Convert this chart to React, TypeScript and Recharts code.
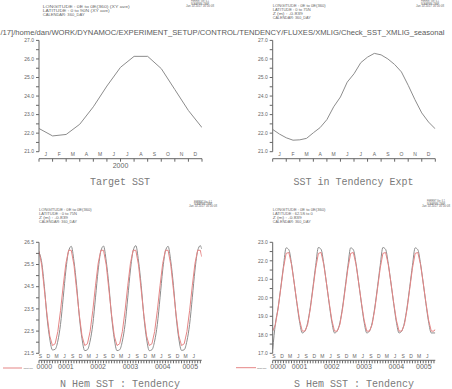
import React from "react";
import { LineChart, Line, XAxis, YAxis } from "recharts";

// ---------- data ----------
const MONTH_LETTERS = ["J", "F", "M", "A", "M", "J", "J", "A", "S", "O", "N", "D"];
const MONTH_EDGES = [0, 1, 2, 3, 4, 5, 6, 7, 8, 9, 10, 11, 12];
// Target SST, year 2000, value at each month boundary (Jan 1 .. next Jan 1)
const TARGET_SST = [22.25, 21.85, 21.93, 22.48, 23.42, 24.54, 25.55, 26.14, 26.14, 25.48, 24.35, 23.22, 22.3];
// SST in Tendency Expt, every half month
const TEND_TIME = [0, 0.5, 1, 1.5, 2, 2.5, 3, 3.5, 4, 4.5, 5, 5.5, 6, 6.5, 7, 7.5, 8, 8.5, 9, 9.5, 10, 10.5, 11, 11.5, 12];
const TEND_SST = [22.2, 21.95, 21.75, 21.62, 21.64, 21.72, 22.02, 22.3, 22.73, 23.42, 23.95, 24.75, 25.2, 25.8, 26.1, 26.3, 26.22, 26.0, 25.7, 25.3, 24.58, 23.8, 23.09, 22.6, 22.23];

// Bottom panels: months since 1 Sep 0000
const QUARTER_LABELS = ["S", "D", "M", "J", "S", "D", "M", "J", "S", "D", "M", "J", "S", "D", "M", "J", "S", "D", "M", "J"];
const YEAR_LABELS = ["0000", "0001", "0002", "0003", "0004", "0005"];
const YEAR_CENTERS = [2, 10, 22, 34, 46, 56.25];
const NH_MODEL = [
  26.05, 25.6, 24.5, 23.1, 22.15, 21.65, 21.68, 22.05, 22.8, 24.0, 25.25, 26.1,
  26.32, 25.65, 24.55, 23.15, 22.15, 21.62, 21.66, 22.05, 22.8, 24.0, 25.25, 26.1,
  26.33, 25.65, 24.55, 23.15, 22.15, 21.62, 21.66, 22.05, 22.8, 24.0, 25.25, 26.12,
  26.35, 25.66, 24.55, 23.15, 22.15, 21.62, 21.66, 22.05, 22.8, 24.0, 25.25, 26.1,
  26.32, 25.65, 24.55, 23.15, 22.15, 21.63, 21.66, 22.05, 22.8, 24.0, 25.25, 26.12,
  26.35, 26.2,
];
const NH_TARGET = [
  26.1, 25.48, 24.35, 23.22, 22.28, 21.85, 21.93, 22.48, 23.42, 24.54, 25.55, 26.14,
  26.14, 25.48, 24.35, 23.22, 22.28, 21.85, 21.93, 22.48, 23.42, 24.54, 25.55, 26.14,
  26.14, 25.48, 24.35, 23.22, 22.28, 21.85, 21.93, 22.48, 23.42, 24.54, 25.55, 26.14,
  26.14, 25.48, 24.35, 23.22, 22.28, 21.85, 21.93, 22.48, 23.42, 24.54, 25.55, 26.14,
  26.14, 25.48, 24.35, 23.22, 22.28, 21.85, 21.93, 22.48, 23.42, 24.54, 25.55, 26.14,
  26.14, 25.85,
];
const SH_MODEL = [
  17.2, 18.6, 19.45, 20.55, 21.7, 22.7, 22.6, 21.85, 20.8, 19.7, 18.7, 18.1,
  18.2, 18.65, 19.5, 20.6, 21.75, 22.72, 22.62, 21.85, 20.8, 19.7, 18.7, 18.1,
  18.2, 18.65, 19.5, 20.6, 21.75, 22.7, 22.6, 21.85, 20.8, 19.7, 18.7, 18.1,
  18.2, 18.65, 19.5, 20.6, 21.75, 22.72, 22.62, 21.85, 20.8, 19.7, 18.7, 18.1,
  18.2, 18.65, 19.5, 20.6, 21.75, 22.7, 22.6, 21.85, 20.8, 19.7, 18.7, 18.1,
  18.1, 18.1,
];
const SH_TARGET = [
  18.2, 18.55, 19.4, 20.5, 21.6, 22.4, 22.45, 21.8, 20.8, 19.75, 18.8, 18.2,
  18.2, 18.55, 19.4, 20.5, 21.6, 22.4, 22.45, 21.8, 20.8, 19.75, 18.8, 18.2,
  18.2, 18.55, 19.4, 20.5, 21.6, 22.4, 22.45, 21.8, 20.8, 19.75, 18.8, 18.2,
  18.2, 18.55, 19.4, 20.5, 21.6, 22.4, 22.45, 21.8, 20.8, 19.75, 18.8, 18.2,
  18.2, 18.55, 19.4, 20.5, 21.6, 22.4, 22.45, 21.8, 20.8, 19.75, 18.8, 18.2,
  18.2, 18.3,
];
const LONG_TIME = NH_MODEL.map((_, i) => (i <= 60 ? i : 60.5));

const TOP_Y_TICKS = [21, 21.5, 22, 22.5, 23, 23.5, 24, 24.5, 25, 25.5, 26, 26.5, 27];
const NH_Y_TICKS = [21.5, 22, 22.5, 23, 23.5, 24, 24.5, 25, 25.5, 26, 26.5];
const SH_Y_TICKS = [17, 17.5, 18, 18.5, 19, 19.5, 20, 20.5, 21, 21.5, 22, 22.5, 23];

// ---------- tables for the library ----------
const targetData = MONTH_EDGES.map((t, i) => ({ t, v: TARGET_SST[i] }));
const tendData = TEND_TIME.map((t, i) => ({ t, v: TEND_SST[i] }));
const nhData = LONG_TIME.map((t, i) => ({ t, model: NH_MODEL[i], target: NH_TARGET[i] }));
const shData = LONG_TIME.map((t, i) => ({ t, model: SH_MODEL[i], target: SH_TARGET[i] }));

const monthLabelTicks = MONTH_LETTERS.map((_, i) => i + 0.5);
const quarterTicks = QUARTER_LABELS.map((_, i) => 0.5 + 3 * i);
const longEdges = Array.from({ length: 61 }, (_, i) => i);

const AXIS = "#666";
const TXT = "#666";
const BLACK = "#8c8c8c";
const RED = "#e58585";
const SANS = "'Liberation Sans', Arial, sans-serif";

type LineSpec = { key: string; color: string; type: "linear" | "monotone" };

function Panel(p: {
  x: number; y: number; w: number; h: number;
  margin: { top: number; right: number; bottom: number; left: number };
  yW: number; data: any[]; lines: LineSpec[];
  yDomain: [number, number]; yTicks: number[]; yFmt: (v: number) => string;
  xDomain: [number, number]; xTicks: number[];
  lblTicks: number[]; lblFmt: (v: number) => string;
  yrTicks?: number[]; yrFmt?: (v: number) => string;
  thickRight?: boolean;
}) {
  const blank = () => "";
  return (
    <div style={{ position: "absolute", left: p.x, top: p.y }}>
      <LineChart width={p.w} height={p.h} data={p.data} margin={p.margin}>
        <XAxis xAxisId="tk" dataKey="t" type="number" domain={p.xDomain} allowDataOverflow
          ticks={p.xTicks} interval={0} tickSize={3} tickFormatter={blank} height={4}
          stroke={AXIS} tick={{ fontSize: 1 }} />
        <XAxis xAxisId="lb" dataKey="t" type="number" domain={p.xDomain} allowDataOverflow
          ticks={p.lblTicks} interval={0} tickFormatter={p.lblFmt} axisLine={false} tickLine={false}
          tickSize={0} tickMargin={1} height={7}
          tick={{ fontSize: 5, fill: TXT, fontFamily: SANS }} />
        {p.yrTicks ? (
          <XAxis xAxisId="yr" dataKey="t" type="number" domain={p.xDomain} allowDataOverflow
            ticks={p.yrTicks} interval={0} tickFormatter={p.yrFmt} axisLine={false} tickLine={false}
            tickSize={0} tickMargin={0} height={12}
            tick={{ fontSize: 7, fill: TXT, fontFamily: SANS }} />
        ) : null}
        <XAxis xAxisId="top" orientation="top" mirror dataKey="t" type="number" domain={p.xDomain}
          allowDataOverflow ticks={p.xTicks} interval={0} tickSize={3} tickFormatter={blank} height={0}
          stroke={AXIS} tick={{ fontSize: 1 }} />
        <YAxis yAxisId="y" type="number" domain={p.yDomain} allowDataOverflow ticks={p.yTicks}
          interval={0} tickFormatter={p.yFmt} width={p.yW} tickSize={3} tickMargin={2} stroke={AXIS}
          tick={{ fontSize: 5, fill: TXT, fontFamily: SANS }} />
        <YAxis yAxisId="r" orientation="right" type="number" domain={p.yDomain} allowDataOverflow
          ticks={p.yTicks} interval={0} tickFormatter={blank} width={0} tickSize={3} stroke={AXIS}
          axisLine={p.thickRight ? { stroke: "#a0a0a0", strokeWidth: 2.5 } : true}
          tick={{ fontSize: 1 }} />
        {p.lines.map((l) => (
          <Line key={l.key} xAxisId="tk" yAxisId="y" dataKey={l.key} type={l.type} stroke={l.color}
            strokeWidth={1} dot={false} activeDot={false} isAnimationActive={false} />
        ))}
      </LineChart>
    </div>
  );
}

const fmtInt = (v: number) => (Math.abs(v - Math.round(v)) < 1e-6 ? v.toFixed(1) : "");
const fmtHalf = (v: number) => (Math.abs(v - Math.round(v)) > 1e-6 ? v.toFixed(1) : "");
const fmtMonth = (v: number) => MONTH_LETTERS[Math.floor(v)] ?? "";
const fmtQuarter = (v: number) => QUARTER_LABELS[Math.round((v - 0.5) / 3)] ?? "";
const fmtYear = (v: number) => YEAR_LABELS[YEAR_CENTERS.indexOf(v)] ?? "";
const fmt2000 = () => "2000";

function T(props: { x: number; y: number; s: string; size: number; w?: number; anchor?: string; family?: string; fill?: string }) {
  return (
    <text x={props.x} y={props.y} fontSize={props.size} fontFamily={props.family ?? SANS}
      fill={props.fill ?? TXT} textAnchor={props.anchor ?? "start"}
      {...(props.w ? { textLength: props.w, lengthAdjust: "spacingAndGlyphs" } : {})}>
      {props.s}
    </text>
  );
}

function Stamp({ cx, y }: { cx: number; y: number }) {
  return (
    <g>
      <T x={cx} y={y} s="FERRET Ver. 6.1" size={2.6} anchor="middle" w={18} />
      <T x={cx} y={y + 2.3} s="NOAA/PMEL TMAP" size={2.6} anchor="middle" w={18} />
      <T x={cx} y={y + 4.6} s="Jan 10 2017 16:16:08" size={2.6} anchor="middle" w={28} />
    </g>
  );
}

export default function App() {
  const MONO = "'Liberation Mono', 'DejaVu Sans Mono', monospace";
  return (
    <div style={{ position: "absolute", left: 0, top: 0, width: 452, height: 389, background: "#fff", overflow: "hidden" }}>
      <Panel x={0} y={0} w={226} h={200} margin={{ top: 40.4, right: 24, bottom: 25.3, left: 0 }} yW={39}
        data={targetData} lines={[{ key: "v", color: BLACK, type: "linear" }]}
        yDomain={[21, 27]} yTicks={TOP_Y_TICKS} yFmt={fmtInt}
        xDomain={[0, 12]} xTicks={MONTH_EDGES} lblTicks={monthLabelTicks} lblFmt={fmtMonth}
        yrTicks={[6]} yrFmt={fmt2000} />
      <Panel x={226} y={0} w={226} h={200} margin={{ top: 40.4, right: 16.7, bottom: 37.3, left: 0 }} yW={46.7}
        data={tendData} lines={[{ key: "v", color: BLACK, type: "linear" }]}
        yDomain={[21, 27]} yTicks={TOP_Y_TICKS} yFmt={fmtInt}
        xDomain={[0, 12]} xTicks={MONTH_EDGES} lblTicks={monthLabelTicks} lblFmt={fmtMonth}
        thickRight />
      <Panel x={0} y={200} w={226} h={189} margin={{ top: 42.3, right: 24.3, bottom: 12.7, left: 0 }} yW={39}
        data={nhData} lines={[{ key: "model", color: BLACK, type: "monotone" }, { key: "target", color: RED, type: "linear" }]}
        yDomain={[21.5, 26.5]} yTicks={NH_Y_TICKS} yFmt={fmtHalf}
        xDomain={[0, 60.5]} xTicks={longEdges} lblTicks={quarterTicks} lblFmt={fmtQuarter}
        yrTicks={YEAR_CENTERS} yrFmt={fmtYear} />
      <Panel x={226} y={200} w={226} h={189} margin={{ top: 42.3, right: 16.7, bottom: 12.7, left: 0 }} yW={46.7}
        data={shData} lines={[{ key: "model", color: BLACK, type: "monotone" }, { key: "target", color: RED, type: "linear" }]}
        yDomain={[17, 23]} yTicks={SH_Y_TICKS} yFmt={fmtInt}
        xDomain={[0, 60.5]} xTicks={longEdges} lblTicks={quarterTicks} lblFmt={fmtQuarter}
        yrTicks={YEAR_CENTERS} yrFmt={fmtYear} thickRight />

      <svg width={452} height={389} style={{ position: "absolute", left: 0, top: 0, pointerEvents: "none" }}>
        {/* panel 1 header */}
        <T x={42.7} y={8.4} s="LONGITUDE : 0E to 0E(360) (XY ave)" size={4} w={87} />
        <T x={42.7} y={12.4} s="LATITUDE : 0 to 90N (XY ave)" size={4} w={67} />
        <T x={42.7} y={16.4} s="CALENDAR: 360_DAY" size={4} w={42} />
        <Stamp cx={200} y={2.4} />
        {/* panel 2 header */}
        <T x={272.7} y={7.3} s="LONGITUDE : 0E to 0E(360)" size={3.6} w={53} />
        <T x={272.7} y={11.1} s="LATITUDE : 0 to 75N" size={3.6} w={38} />
        <T x={272.7} y={14.9} s="Z (m) : -0.839" size={3.6} w={30} />
        <T x={272.7} y={18.6} s="CALENDAR: 360_DAY" size={3.6} w={38} />
        <Stamp cx={430} y={2.4} />
        {/* path */}
        <T x={0.5} y={34.5} s="/17]/home/dan/WORK/DYNAMOC/EXPERIMENT_SETUP/CONTROL/TENDENCY/FLUXES/XMLIG/Check_SST_XMLIG_seasonal" size={7.5} w={444} fill="#5a5a5a" />
        {/* titles */}
        <T x={120} y={185} s="Target SST" size={10} anchor="middle" family={MONO} fill="#7a7a7a" />
        <T x={353.5} y={185} s="SST in Tendency Expt" size={10} anchor="middle" family={MONO} fill="#7a7a7a" />
        <T x={120} y={386.5} s="N Hem SST : Tendency" size={10} anchor="middle" family={MONO} fill="#7a7a7a" />
        <T x={354} y={386.5} s="S Hem SST : Tendency" size={10} anchor="middle" family={MONO} fill="#7a7a7a" />
        {/* panel 3 header */}
        <T x={39} y={210.5} s="LONGITUDE : 0E to 0E(360)" size={3.6} w={52.7} />
        <T x={39} y={214.6} s="LATITUDE : 0 to 75N" size={3.6} w={38} />
        <T x={39} y={218.8} s="Z (m) : -0.839" size={3.6} w={29} />
        <T x={39} y={223} s="CALENDAR: 360_DAY" size={3.6} w={38} />
        <Stamp cx={203} y={202.6} />
        {/* panel 4 header */}
        <T x={272.7} y={210.5} s="LONGITUDE : 0E to 0E(360)" size={3.6} w={52.7} />
        <T x={272.7} y={214.6} s="LATITUDE : 62.5S to 0" size={3.6} w={40} />
        <T x={272.7} y={218.8} s="Z (m) : -0.839" size={3.6} w={29} />
        <T x={272.7} y={223} s="CALENDAR: 360_DAY" size={3.6} w={38} />
        <Stamp cx={436} y={202.4} />
        {/* legends */}
        <line x1={3} y1={368} x2={22} y2={368} stroke={RED} strokeWidth={1} />
        <T x={23.5} y={369} s="Target SST" size={2.5} w={9.5} />
        <line x1={236} y1={367.7} x2={256} y2={367.7} stroke={RED} strokeWidth={1} />
        <T x={257} y={368.7} s="Target SST" size={2.5} w={9.5} />
      </svg>
    </div>
  );
}
